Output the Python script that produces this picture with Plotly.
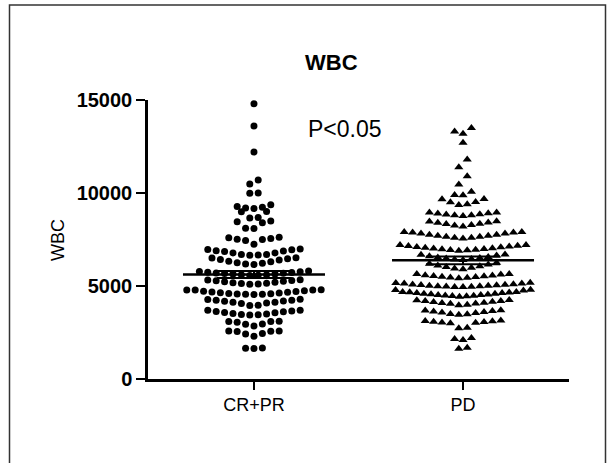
import numpy as np
import plotly.graph_objects as go

# ---------------- data ----------------
categories = ["CR+PR", "PD"]

cr_pr = [
    14800, 13600, 12200,
    10700, 10480, 10000, 9980,
    9370, 9280, 9240, 9190, 9160,
    9000, 8990, 8680, 8660,
    8500, 8450, 8400, 8100, 8090,
    7620, 7560, 7500, 7450, 7520, 7600, 7250,
    6990, 6950, 6900, 6850, 6780, 6700, 6660, 6650, 6700, 6780, 6880, 6960,
    6520, 6470, 6400, 6330, 6250, 6180, 6150, 6220, 6300, 6420, 6500,
    5800, 5780, 5740, 5700, 5670, 5640, 5610, 5580, 5560, 5600, 5650, 5690, 5730, 5770,
    5330, 5300, 5250, 5200, 5150, 5110, 5100, 5130, 5180, 5230, 5280, 5320,
    4800, 4790, 4720, 4680, 4640, 4600, 4570, 4550, 4540, 4560, 4580, 4620, 4660, 4700, 4740, 4780, 4790,
    4290, 4230, 4200, 4130, 4080, 3960, 3950, 4060, 4120, 4180, 4240, 4280,
    3700, 3660, 3620, 3560, 3500, 3450, 3440, 3470, 3520, 3580, 3630, 3690,
    3100, 3090, 2950, 2850, 2960, 3050, 3090,
    2580, 2570, 2450, 2300, 2420, 2560, 2580,
    1660, 1650, 1640,
]

pd_vals = [
    13500, 13300, 13180, 12700, 11800, 11380, 10900, 10460,
    10070, 9890, 9880,
    9680, 9500, 9350, 9390, 9510, 9670,
    8950, 8900, 8850, 8800, 8760, 8800, 8860, 8910, 8950,
    8480, 8420, 8350, 8280, 8200, 8250, 8330, 8400, 8470,
    7900, 7870, 7820, 7760, 7700, 7650, 7600, 7560, 7600, 7650, 7700, 7760, 7820, 7870, 7900,
    7200, 7160, 7120, 7080, 7030, 6990, 6950, 6920, 6900, 6930, 6970, 7010, 7050, 7100, 7150, 7200,
    6700, 6680, 6640, 6600, 6560, 6530, 6500, 6480, 6450, 6420, 6400,
    6250, 6200, 6150, 6100, 6060, 6020, 5980, 5940, 5900,
    5650, 5640, 5620, 5580, 5540, 5500, 5460, 5420, 5440, 5480, 5520, 5560,
    5170, 5140, 5100, 5070, 5040, 5010, 4980, 4960, 4940, 4950, 4970, 4990, 5020, 5050, 5080, 5130, 5160,
    4800, 4780, 4760,
    4680, 4660, 4620, 4580, 4550, 4520, 4490, 4460, 4420, 4450, 4480, 4510, 4540, 4580, 4620, 4650, 4680,
    4250, 4200, 4150, 4100, 4060, 3990, 3960, 4040, 4090, 4140, 4190, 4240,
    3700, 3650, 3600, 3550, 3480, 3450, 3500, 3570, 3630, 3680,
    3150, 3120, 3080, 3040, 3000, 3020, 3060, 3100,
    2750, 2730,
    2200, 2150, 2100,
    1680, 1620,
]

means = [5620, 6380]
sems = [190, 210]

y_ticks = [0, 5000, 10000, 15000]
y_tick_text = ["0", "5000", "10000", "15000"]

# ---------------- layout geometry ----------------
W, H = 608, 463
ML, MR, MT, MB = 148, 39, 100, 84
plot_w = W - ML - MR
plot_h = H - MT - MB
x_range = [-0.507, 1.507]
y_range = [0, 15000]
px_per_x = plot_w / (x_range[1] - x_range[0])
px_per_y = plot_h / (y_range[1] - y_range[0])


def row_scatter_offsets(values, band=450, step_px=8.4, max_width_px=135):
    """GraphPad-like scatter: group values into horizontal bands and spread each band
    symmetrically around the category centre (lowest value in the middle)."""
    vals = np.asarray(values, dtype=float)
    order = np.argsort(vals, kind="stable")
    offs = np.zeros(len(vals))
    i = 0
    while i < len(order):
        start = vals[order[i]]
        j = i
        while j < len(order) and vals[order[j]] < start + band:
            j += 1
        idx = order[i:j]
        n = len(idx)
        step = step_px if n < 2 else min(step_px, max_width_px / (n - 1))
        slots = []
        if n % 2 == 1:
            slots.append(0.0)
            k = 1
            while len(slots) < n:
                slots += [-k, k]
                k += 1
        else:
            k = 0.5
            while len(slots) < n:
                slots += [-k, k]
                k += 1
        for s, p in zip(slots[:n], idx):
            offs[p] = s * step
        i = j
    return offs / px_per_x


fig = go.Figure()

groups = [cr_pr, pd_vals]
symbols = ["circle", "triangle-up"]
sizes = [7, 8]
for gi, vals in enumerate(groups):
    offs = row_scatter_offsets(vals)
    fig.add_trace(go.Scatter(
        x=gi + offs, y=vals, mode="markers",
        marker=dict(symbol=symbols[gi], size=sizes[gi], color="black", line=dict(width=0)),
        cliponaxis=False, showlegend=False, hoverinfo="y",
    ))

# mean lines and SEM bars
mean_half = 71 / px_per_x
cap_half = 37 / px_per_x
for gi, (m, s) in enumerate(zip(means, sems)):
    fig.add_trace(go.Scatter(x=[gi - mean_half, gi + mean_half], y=[m, m], mode="lines",
                             line=dict(color="black", width=2.5), showlegend=False, hoverinfo="skip"))
    for yy in (m - s, m + s):
        fig.add_trace(go.Scatter(x=[gi - cap_half, gi + cap_half], y=[yy, yy], mode="lines",
                                 line=dict(color="black", width=2), showlegend=False, hoverinfo="skip"))
    fig.add_trace(go.Scatter(x=[gi, gi], y=[m - s, m + s], mode="lines",
                             line=dict(color="black", width=2), showlegend=False, hoverinfo="skip"))

FONT = "Liberation Sans, Arial, sans-serif"

fig.update_layout(
    width=W, height=H,
    margin=dict(l=ML, r=MR, t=MT, b=MB, pad=0),
    paper_bgcolor="white", plot_bgcolor="white",
    font=dict(family=FONT, color="black"),
    showlegend=False,
    xaxis=dict(
        range=x_range, tickmode="array", tickvals=[0, 1], ticktext=categories,
        showline=True, linecolor="black", linewidth=2.5,
        ticks="outside", ticklen=8, tickwidth=2, tickcolor="black",
        showgrid=False, zeroline=False,
        tickfont=dict(family=FONT, size=18, color="black"),
    ),
    yaxis=dict(
        range=y_range, tickmode="array", tickvals=y_ticks, ticktext=y_tick_text,
        showline=True, linecolor="black", linewidth=2.5,
        ticks="outside", ticklen=9, tickwidth=2, tickcolor="black",
        showgrid=False, zeroline=False,
        tickfont=dict(family=FONT, size=20, color="black", weight="bold"),
    ),
)

def px_to_paper(xp, yp):
    return (xp - ML) / plot_w, (H - MB - yp) / plot_h

# outer frame
fx0, fy1 = px_to_paper(9.5, 5)
fx1, fy0 = px_to_paper(605.5, 475)
fig.add_shape(type="rect", xref="paper", yref="paper", x0=fx0, x1=fx1, y0=fy0, y1=fy1,
              line=dict(color="#333333", width=1.5), fillcolor="rgba(0,0,0,0)", layer="below")

tx, ty = px_to_paper(331, 62)
fig.add_annotation(x=tx, y=ty, xref="paper", yref="paper", text="<b>WBC</b>", showarrow=False,
                   font=dict(family=FONT, size=22, color="black"), xanchor="center", yanchor="middle")

px_, py_ = px_to_paper(345, 129)
fig.add_annotation(x=px_, y=py_, xref="paper", yref="paper", text="P<0.05", showarrow=False,
                   font=dict(family=FONT, size=23, color="black"), xanchor="center", yanchor="middle")

ax_, ay_ = px_to_paper(58, 240)
fig.add_annotation(x=ax_, y=ay_, xref="paper", yref="paper", text="WBC", showarrow=False, textangle=-90,
                   font=dict(family=FONT, size=18, color="black"), xanchor="center", yanchor="middle")

fig.write_html("out.html", config={"displayModeBar": False},
               post_script="document.body.style.margin='0';document.body.style.overflow='hidden';")
